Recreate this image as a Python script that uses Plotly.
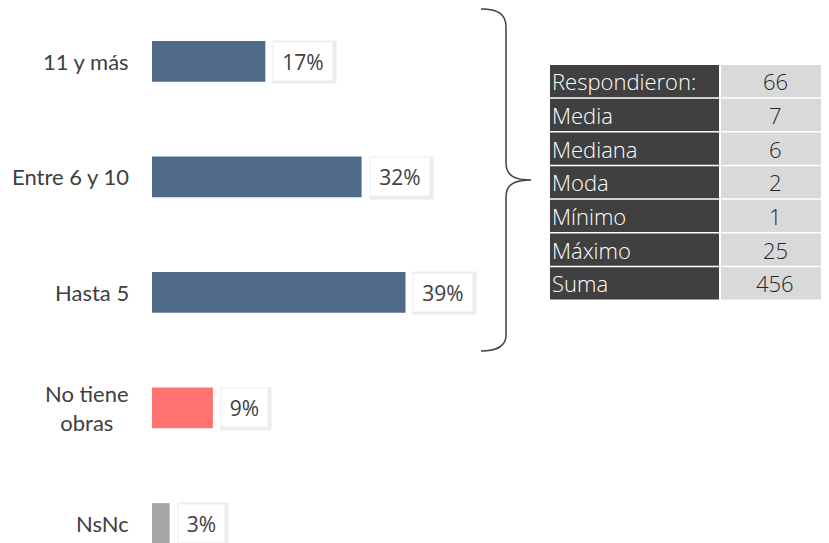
import plotly.graph_objects as go

# ---- data ----
categories = ["11 y más", "Entre 6 y 10", "Hasta 5", "No tiene<br>obras", "NsNc"]
positions = [4, 3, 2, 1, 0]
percent = [17.3, 32.0, 38.7, 9.3, 2.7]
bar_colors = ["#506a8a", "#506a8a", "#506a8a", "#ff7373", "#a6a6a6"]

stat_labels = ["Respondieron:", "Media", "Mediana", "Moda", "Mínimo", "Máximo", "Suma"]
stat_values = ["66", "7", "6", "2", "1", "25", "456"]

# page body has an 8px margin: figure sized to the visible window area
OFF = 8
W, H = 829 - OFF, 543 - OFF
px = lambda v: (v - OFF) / W          # window x -> paper x
py = lambda v: 1 - (v - OFF) / H      # window y -> paper y

fig = go.Figure()
fig.add_trace(go.Bar(
    y=positions, x=percent, orientation="h",
    marker=dict(color=bar_colors, line=dict(width=0)),
    width=0.352, hoverinfo="skip", showlegend=False,
))

annotations = []
shapes = []

for cat, pos, val in zip(categories, positions, percent):
    annotations.append(dict(
        xref="paper", yref="y", x=px(152), y=pos, xanchor="right", yanchor="middle",
        xshift=-21, text=cat, showarrow=False, align="center",
        font=dict(family="Lato", size=22, color="#404040"),
    ))
    txt = f"{val:.0f}%"
    bw = 58 if len(txt) == 3 else 45
    # soft shadow behind the value box
    annotations.append(dict(
        xref="x", yref="y", x=val, y=pos, xanchor="left", yanchor="middle",
        xshift=7, yshift=-1, text="", showarrow=False, width=bw + 3, height=40,
        bgcolor="#ececec",
    ))
    annotations.append(dict(
        xref="x", yref="y", x=val, y=pos, xanchor="left", yanchor="middle",
        xshift=8, text=txt, showarrow=False, width=bw, height=37,
        bgcolor="white", borderpad=0,
        font=dict(family="Open Sans", size=21, color="#404040"),
    ))

# statistics table
dark, light = "#404040", "#d9d9d9"
top, pitch, gap = 65, 33.71, 1.5
for i, (lab, v) in enumerate(zip(stat_labels, stat_values)):
    y0 = top + i * pitch
    y1 = y0 + pitch - gap
    shapes.append(dict(type="rect", xref="paper", yref="paper", layer="below",
                       x0=px(550), x1=px(719), y0=py(y1), y1=py(y0),
                       fillcolor=dark, line=dict(width=0)))
    shapes.append(dict(type="rect", xref="paper", yref="paper", layer="below",
                       x0=px(721), x1=px(829), y0=py(y1), y1=py(y0),
                       fillcolor=light, line=dict(width=0)))
    yc = py((y0 + y1) / 2)
    annotations.append(dict(
        xref="paper", yref="paper", x=px(550), y=yc, xanchor="left", yanchor="middle",
        text=lab, showarrow=False,
        font=dict(family="Open Sans", size=22, color="white", weight=300),
    ))
    annotations.append(dict(
        xref="paper", yref="paper", x=px(775), y=yc, xanchor="center", yanchor="middle",
        text=v, showarrow=False,
        font=dict(family="Open Sans", size=22, color="#262626", weight=300),
    ))

# curly brace
def P(x, y):
    return f"{px(x):.5f},{py(y):.5f}"

brace = (
    f"M {P(481, 9)} C {P(498, 9)} {P(506, 14)} {P(506, 27)} "
    f"L {P(506, 163)} C {P(506, 176)} {P(515, 180)} {P(531, 180)} "
    f"C {P(515, 180)} {P(506, 184)} {P(506, 197)} "
    f"L {P(506, 335)} C {P(506, 346)} {P(498, 351)} {P(481, 351)}"
)
shapes.append(dict(type="path", xref="paper", yref="paper", path=brace,
                   line=dict(color="#404040", width=1.5)))

x0p = px(152)
fig.update_layout(
    width=W, height=H,
    margin=dict(l=0, r=0, t=0, b=0),
    paper_bgcolor="white", plot_bgcolor="white",
    xaxis=dict(domain=[x0p, x0p + 655 / W], range=[0, 100], visible=False),
    yaxis=dict(domain=[0, 1], range=[-0.169, 4.462], visible=False),
    annotations=annotations, shapes=shapes,
)

fig.write_html("out.html")
